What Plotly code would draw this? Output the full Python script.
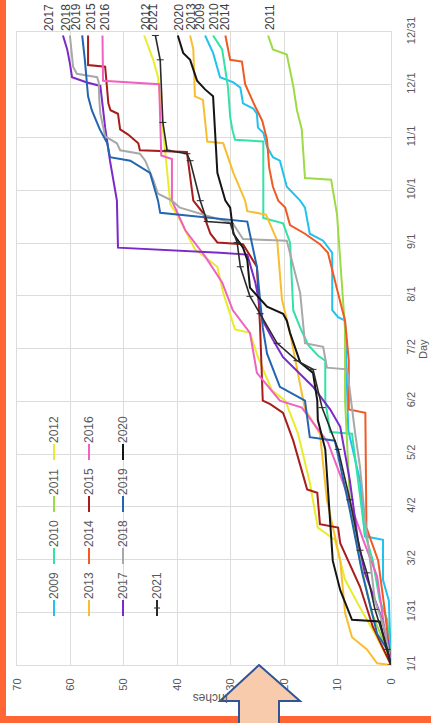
import plotly.graph_objects as go

# ---------------- data (day of year, cumulative inches) ----------------
day_tick_text = ["1/1", "1/31", "3/2", "4/2", "5/2", "6/2", "7/2", "8/1", "9/1", "10/1", "11/1", "12/1", "12/31"]
inch_ticks = [0, 10, 20, 30, 40, 50, 60, 70]

d09 = [0, 37, 49, 72, 74, 106, 135, 198, 200, 204, 237, 244, 248, 263, 267, 275, 290, 292, 298, 306, 309, 317, 320, 323, 332, 335, 338, 344, 352, 362]
v09 = [0, 0.4, 1.5, 1.5, 4.9, 5.8, 8.0, 8.6, 9.9, 11.0, 11.0, 12.7, 15.2, 16.1, 17.0, 19.5, 20.8, 22.1, 23.2, 23.9, 24.9, 25.1, 25.8, 27.7, 28.2, 29.5, 32.0, 32.5, 33.3, 34.8]

d10 = [0, 26, 37, 60, 76, 112, 133, 134, 152, 175, 178, 184, 194, 204, 243, 254, 257, 301, 302, 308, 315, 332, 354, 362]
v10 = [0, 0.7, 2.1, 3.4, 4.9, 6.4, 7.3, 11.4, 12.3, 12.3, 13.7, 15.5, 17.0, 18.3, 18.9, 20.2, 23.9, 23.9, 29.2, 29.7, 30.1, 30.5, 31.6, 33.3]

d11 = [0, 12, 30, 60, 95, 152, 193, 238, 259, 279, 280, 308, 319, 333, 351, 354, 362]
v11 = [0, 1.2, 3.6, 5.8, 7.7, 8.6, 8.6, 9.7, 10.1, 11.2, 16.1, 16.7, 17.6, 18.3, 19.5, 22.1, 23.0]

d12 = [0, 18, 33, 49, 72, 79, 105, 133, 152, 158, 177, 191, 193, 214, 229, 232, 239, 256, 265, 309, 338, 348, 362]
v12 = [0, 3.0, 5.8, 8.6, 10.5, 13.7, 15.2, 17.4, 19.8, 22.3, 24.9, 26.4, 29.2, 31.4, 32.5, 33.8, 36.7, 39.5, 41.3, 42.7, 43.6, 44.5, 46.2]

d13 = [0, 1, 9, 16, 30, 60, 95, 133, 147, 171, 191, 210, 244, 259, 261, 267, 283, 300, 301, 325, 327, 354, 362]
v13 = [0, 2.6, 4.5, 7.3, 8.6, 9.5, 12.0, 13.3, 16.1, 17.6, 18.9, 20.4, 21.3, 23.4, 26.9, 27.3, 29.5, 31.4, 34.4, 35.2, 36.7, 37.0, 37.6]

d14 = [0, 30, 60, 79, 145, 147, 175, 198, 216, 237, 242, 248, 253, 263, 267, 275, 286, 302, 313, 321, 334, 347, 348, 362]
v14 = [0, 1.1, 2.4, 4.6, 4.8, 7.9, 7.9, 8.6, 10.1, 11.8, 13.3, 16.1, 18.9, 19.8, 21.1, 22.1, 22.8, 23.2, 24.1, 25.4, 27.3, 27.9, 30.1, 31.0]

d15 = [0, 22, 45, 70, 79, 81, 99, 101, 129, 145, 150, 152, 194, 229, 242, 243, 248, 260, 267, 295, 296, 300, 305, 308, 317, 319, 323, 344, 345, 362]
v15 = [0, 3.4, 5.8, 9.5, 9.9, 13.3, 13.8, 15.7, 18.3, 20.2, 22.6, 24.0, 24.5, 25.1, 27.7, 32.5, 33.8, 35.2, 37.0, 38.2, 47.0, 47.3, 49.2, 50.7, 51.1, 52.5, 52.9, 53.5, 56.7, 56.7]

d16 = [0, 18, 51, 72, 105, 128, 148, 152, 168, 191, 204, 220, 235, 250, 267, 291, 293, 334, 336, 362]
v16 = [0, 1.1, 2.6, 5.2, 9.0, 11.8, 16.7, 20.8, 25.1, 26.4, 29.6, 31.6, 34.8, 38.5, 41.0, 41.0, 43.0, 43.4, 53.9, 54.0]

d17 = [0, 14, 30, 53, 72, 106, 137, 147, 160, 177, 187, 198, 220, 236, 237, 240, 267, 290, 309, 333, 335, 338, 346, 354, 362]
v17 = [0, 0.6, 2.1, 4.9, 6.2, 7.7, 9.5, 11.4, 14.6, 20.2, 22.1, 24.0, 25.4, 26.9, 32.0, 51.1, 51.3, 52.6, 53.5, 54.4, 56.9, 59.7, 60.1, 60.6, 61.4]

d18 = [0, 20, 37, 85, 114, 133, 170, 171, 183, 185, 214, 244, 245, 254, 263, 267, 271, 279, 290, 294, 296, 300, 304, 317, 325, 335, 338, 340, 344, 362]
v18 = [0, 1.1, 3.0, 4.9, 5.8, 6.7, 8.2, 12.0, 12.7, 16.1, 17.0, 19.5, 27.7, 29.6, 39.5, 41.0, 43.6, 44.5, 46.0, 47.0, 50.7, 51.3, 53.5, 54.4, 54.6, 54.7, 55.0, 58.8, 59.5, 60.1]

d19 = [0, 9, 18, 53, 89, 129, 131, 152, 160, 179, 194, 229, 255, 260, 267, 283, 290, 292, 300, 308, 319, 327, 348, 362]
v19 = [0, 0.7, 2.6, 5.4, 7.7, 10.5, 15.2, 16.1, 20.8, 23.2, 24.0, 25.1, 26.9, 43.2, 43.6, 45.1, 48.8, 52.6, 53.1, 54.5, 56.0, 56.7, 57.3, 57.8]

d20 = [0, 14, 25, 26, 43, 60, 83, 106, 124, 141, 152, 168, 174, 191, 198, 202, 206, 217, 233, 240, 248, 263, 267, 283, 327, 331, 336, 348, 352, 362]
v20 = [0, 1.1, 2.1, 7.3, 9.5, 10.9, 11.4, 11.8, 12.3, 13.7, 13.8, 14.6, 17.0, 18.9, 19.5, 20.2, 23.2, 26.4, 26.9, 27.7, 29.5, 30.1, 31.0, 32.5, 33.3, 34.8, 36.3, 37.6, 38.9, 39.9]

d21 = [0, 9, 32, 53, 66, 95, 124, 148, 170, 175, 185, 202, 212, 229, 243, 254, 255, 267, 290, 294, 296, 312, 348, 362]
v21 = [0, 0.7, 3.0, 4.5, 5.8, 7.7, 9.9, 12.9, 14.6, 17.6, 21.3, 24.5, 26.4, 28.2, 28.8, 30.1, 34.4, 35.7, 37.6, 38.2, 41.9, 42.7, 43.2, 44.1]

years = ["2009", "2010", "2011", "2012", "2013", "2014", "2015",
         "2016", "2017", "2018", "2019", "2020", "2021"]
days = [d09, d10, d11, d12, d13, d14, d15, d16, d17, d18, d19, d20, d21]
vals = [v09, v10, v11, v12, v13, v14, v15, v16, v17, v18, v19, v20, v21]
colors = ["#22C2EE", "#33E2A4", "#9CDB45", "#E8EC2A", "#F8BE30", "#F05A24", "#A81C1C",
          "#F062C0", "#7D28C8", "#A8A8A8", "#2265B0", "#151515", "#2A2A2A"]
# horizontal pixel nudges of the end labels (label placement only)
label_shift = [-5, 1, 2, 2, 1, 0, 3, 3, -14, -4, -6, 1, -2]

# ---------------- geometry ----------------
W, H = 431, 723
L, R, T, B = 17, 40, 32, 58
PW, PH = W - L - R, H - T - B


def px(x):
    return (x - L) / PW


def py(y):
    return (H - B - y) / PH


fig = go.Figure()
for name, d, v, c in zip(years, days, vals, colors):
    if name == "2021":
        fig.add_trace(go.Scatter(x=v, y=d, mode="lines+markers", name=name,
                                 line=dict(color=c, width=1.6),
                                 marker=dict(symbol="line-ew", size=5, line=dict(color=c, width=1)),
                                 hoverinfo="skip"))
    else:
        fig.add_trace(go.Scatter(x=v, y=d, mode="lines", name=name,
                                 line=dict(color=c, width=2), hoverinfo="skip"))

day_tickvals = [i * 364 / 12 for i in range(13)]

fig.update_layout(
    width=W, height=H,
    margin=dict(l=L, r=R, t=T, b=B, pad=0),
    paper_bgcolor="white", plot_bgcolor="white",
    showlegend=False,
    font=dict(family="Liberation Sans, Arial, sans-serif", color="#595959", size=11),
)
fig.update_xaxes(range=[70, 0], tickvals=inch_ticks, tickangle=-90,
                 showgrid=True, gridcolor="#DCDCDC", gridwidth=1, zeroline=False,
                 showline=True, mirror=True, linecolor="#DCDCDC", linewidth=1,
                 ticks="", ticklabelstandoff=8,
                 tickfont=dict(size=11, color="#595959"))
fig.update_yaxes(range=[0, 364], tickvals=day_tickvals, ticktext=day_tick_text,
                 side="right", tickangle=-90,
                 showgrid=True, gridcolor="#DCDCDC", gridwidth=1, zeroline=False,
                 showline=True, mirror=True, linecolor="#DCDCDC", linewidth=1,
                 ticks="", ticklabelstandoff=10,
                 tickfont=dict(size=11, color="#595959"))

annotations = []
shapes = []


def label(x, y, text, angle, size=12, color="#595959", xref="paper", xshift=0):
    return dict(x=x, y=y, xref=xref, yref="paper", text=text, textangle=angle,
                showarrow=False, xanchor="center", yanchor="middle", xshift=xshift,
                font=dict(size=size, color=color))


# end-of-line year labels
for name, v, c, s in zip(years, vals, colors, label_shift):
    annotations.append(label(v[-1], py(17), name, -90, color="#404040", xref="x", xshift=s))

# legend (rotated)
col_x = [54, 89, 123, 157]
for i, (name, c) in enumerate(zip(years, colors)):
    col, row = i // 4, i % 4
    cx = col_x[col]
    my = 608 - 52 * row
    ty = 586 - 52 * row
    shapes.append(dict(type="line", xref="paper", yref="paper",
                       x0=px(cx), x1=px(cx), y0=py(my - 8), y1=py(my + 8),
                       line=dict(color=c, width=2)))
    if name == "2021":
        shapes.append(dict(type="line", xref="paper", yref="paper",
                           x0=px(cx - 3), x1=px(cx + 3), y0=py(my), y1=py(my),
                           line=dict(color=c, width=1)))
    annotations.append(label(px(cx), py(ty), name, -90))

# axis titles
annotations.append(label(px(423), py(349), "Day", -90, size=11))
annotations.append(label(px(210), py(698), "Inches", 180))

# orange frame
shapes.append(dict(type="rect", xref="paper", yref="paper", layer="above",
                   x0=px(0), x1=px(6), y0=py(H), y1=py(0),
                   fillcolor="#FF6633", line=dict(width=0)))
shapes.append(dict(type="rect", xref="paper", yref="paper", layer="above",
                   x0=px(0), x1=px(W), y0=py(H), y1=py(716),
                   fillcolor="#FF6633", line=dict(width=0)))

# big arrow
pts = [(259, 665), (300, 701), (279, 701), (279, 726), (239, 726), (239, 701), (220, 701)]
path = "M " + " L ".join(f"{px(a):.5f},{py(b):.5f}" for a, b in pts) + " Z"
shapes.append(dict(type="path", xref="paper", yref="paper", layer="above", path=path,
                   fillcolor="#F8CBAD", line=dict(color="#2F5597", width=2)))

fig.update_layout(annotations=annotations, shapes=shapes)

fig.write_html("out.html", config={"displayModeBar": False},
               post_script="document.body.style.margin='0';document.body.style.overflow='hidden';")
